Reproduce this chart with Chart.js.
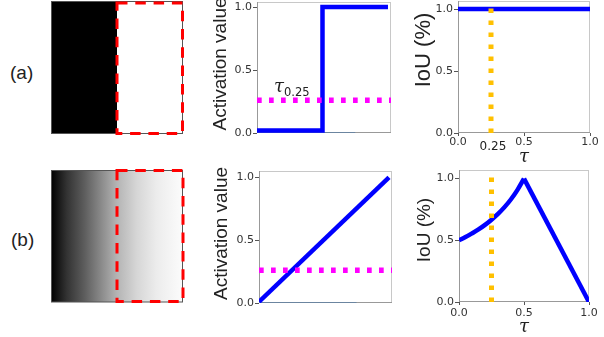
<!DOCTYPE html>
<html>
<head>
<meta charset="utf-8">
<script src="https://cdn.jsdelivr.net/npm/chart.js@4.4.1/dist/chart.umd.min.js"></script>
<style>
    html, body { margin: 0; padding: 0; background: #fff; }
    body { width: 604px; height: 337px; position: relative; overflow: hidden; font-family: 'Liberation Sans', Arial, sans-serif; }
    canvas, svg, .tag { position: absolute; display: block; }
    .tag { font-size: 19px; color: #222; line-height: 1; }
</style>
</head>
<body>

<div class="tag" style="left:10px; top:63px;">(a)</div>
<div class="tag" style="left:11px; top:230px;">(b)</div>

<!-- input maps: hard edge (a) and ramp (b), red box = ground truth region -->
<svg width="200" height="337" style="left:0; top:0;">
    <defs>
        <linearGradient id="ramp" x1="0" x2="1" y1="0" y2="0">
            <stop offset="0" stop-color="#000"/>
            <stop offset="0.12" stop-color="#333"/>
            <stop offset="0.25" stop-color="#5c5c5c"/>
            <stop offset="0.4" stop-color="#919191"/>
            <stop offset="0.5" stop-color="#b4b4b4"/>
            <stop offset="0.65" stop-color="#d6d6d6"/>
            <stop offset="0.8" stop-color="#ececec"/>
            <stop offset="1" stop-color="#fcfcfc"/>
        </linearGradient>
    </defs>
    <rect x="51" y="1" width="66" height="133" fill="#000"/>
    <rect x="51.5" y="1.5" width="131" height="132" fill="none" stroke="#555" stroke-width="1"/>
    <rect x="117" y="3" width="65.5" height="130.5" fill="none" stroke="#f00" stroke-width="3" stroke-dasharray="10.5 7.8"/>

    <rect x="51" y="170" width="132" height="132" fill="url(#ramp)"/>
    <rect x="51.5" y="170.5" width="131" height="131.5" fill="none" stroke="#555" stroke-width="1"/>
    <rect x="117" y="170.5" width="66" height="131" fill="none" stroke="#f00" stroke-width="3" stroke-dasharray="10.5 7.8"/>
</svg>

<canvas id="actA" width="196" height="138" style="left:200px; top:0;"></canvas>
<canvas id="actB" width="197" height="143" style="left:200px; top:165px;"></canvas>
<canvas id="iouA" width="204" height="170" style="left:400px; top:0;"></canvas>
<canvas id="iouB" width="204" height="172" style="left:400px; top:165px;"></canvas>

<script>
// activation along the image width
const stepX = [0, 0.5, 0.5, 1.0];
const stepY = [0.02, 0.02, 1.0, 1.0];
const rampX = [0, 1.0];
const rampY = [0.01, 1.0];
// thin line along the bottom of the activation plots
const baseX = [0, 0.75];
const baseY = [0, 0];
// threshold tau_0.25 drawn across the activation plots
const thrX = [0, 1.03];
const thrY = [0.26, 0.26];

// IoU vs threshold tau
const iouAX = [0, 1.0];
const iouAY = [1.0, 1.0];
// (b): curved rise up to the peak, then straight fall
const iouBRiseX = [0, 0.05, 0.1, 0.15, 0.2, 0.25, 0.3, 0.35, 0.4, 0.45, 0.5];
const iouBRiseY = [0.5, 0.526, 0.556, 0.588, 0.625, 0.667, 0.714, 0.769, 0.833, 0.909, 1.0];
const iouBFallX = [0.5, 1.0];
const iouBFallY = [1.0, 0.0];
// marker at tau = 0.25
const tauX = [0.25, 0.25];
const tauY = [0, 1.08];

const yTicks = [0, 0.5, 1.0];
const xTicks = [0, 0.5, 1.0];

const tickFont = { family: 'DejaVu Sans', size: 11 };

const line = (xs, ys, color, width, dash, smooth) => ({
    data: xs.map((x, i) => ({ x: x, y: ys[i] })),
    borderColor: color,
    borderWidth: width,
    borderDash: dash || [],
    borderCapStyle: 'butt',
    borderJoinStyle: smooth ? 'round' : 'miter',
    pointRadius: 0,
    tension: smooth ? 0.4 : 0,
    cubicInterpolationMode: smooth ? 'monotone' : 'default',
    fill: false
});

// spines + hand placed text (axis titles, tau label)
const framePlugin = {
    id: 'frame',
    beforeDatasetsDraw(chart) {
        const { ctx, chartArea: a } = chart;
        ctx.save();
        ctx.lineWidth = 1;
        ctx.strokeStyle = '#c8c8c8';
        ctx.beginPath();
        ctx.moveTo(a.left, a.top + 0.5);
        ctx.lineTo(a.right, a.top + 0.5);
        ctx.moveTo(a.right - 0.5, a.top);
        ctx.lineTo(a.right - 0.5, a.bottom);
        ctx.stroke();
        ctx.strokeStyle = '#999';
        ctx.beginPath();
        ctx.moveTo(a.left + 0.5, a.top);
        ctx.lineTo(a.left + 0.5, a.bottom);
        ctx.moveTo(a.left, a.bottom - 0.5);
        ctx.lineTo(a.right, a.bottom - 0.5);
        ctx.stroke();
        ctx.restore();
    },
    afterDraw(chart, args, opts) {
        const { ctx, chartArea: a, scales } = chart;
        ctx.save();
        ctx.fillStyle = '#222';
        if (opts.yTitle) {
            ctx.save();
            ctx.translate(opts.yTitleX, (a.top + a.bottom) / 2 + opts.yTitleDy);
            ctx.rotate(-Math.PI / 2);
            ctx.font = opts.yTitleFont;
            ctx.textAlign = 'center';
            ctx.textBaseline = 'middle';
            ctx.fillText(opts.yTitle, 0, 0);
            ctx.restore();
        }
        (opts.notes || []).forEach(n => {
            ctx.font = n.font;
            ctx.textAlign = n.align || 'center';
            ctx.textBaseline = n.baseline || 'alphabetic';
            const x = scales.x.getPixelForValue(n.x);
            const y = n.y !== undefined ? scales.y.getPixelForValue(n.y) : a.bottom + n.below;
            ctx.fillText(n.text, x, y);
        });
        ctx.restore();
    }
};

function plot(id, cfg) {
    const ctx = document.getElementById(id).getContext('2d');
    return new Chart(ctx, {
        type: 'line',
        data: { datasets: cfg.datasets },
        options: {
            responsive: false,
            animation: false,
            events: [],
            layout: { padding: cfg.pad },
            plugins: {
                legend: { display: false },
                tooltip: { enabled: false },
                frame: cfg.frame
            },
            scales: {
                x: {
                    type: 'linear',
                    display: cfg.showX,
                    min: 0,
                    max: cfg.xMax,
                    border: { display: false },
                    grid: { drawOnChartArea: false, tickLength: 3, color: '#555' },
                    ticks: {
                        padding: cfg.xPad,
                        color: '#333',
                        font: tickFont,
                        maxRotation: 0,
                        autoSkip: false,
                        callback: v => v.toFixed(1)
                    },
                    afterBuildTicks: s => { s.ticks = xTicks.map(v => ({ value: v })); },
                    afterFit: s => {
                        s.height = cfg.xHeight;
                        s.paddingLeft = 0;
                        s.paddingRight = 0;
                    }
                },
                y: {
                    type: 'linear',
                    min: 0,
                    max: cfg.yMax,
                    border: { display: false },
                    grid: { drawOnChartArea: false, tickLength: 4, color: '#555' },
                    ticks: {
                        padding: 1,
                        color: '#333',
                        font: tickFont,
                        callback: v => v.toFixed(1)
                    },
                    afterBuildTicks: s => { s.ticks = yTicks.map(v => ({ value: v })); },
                    afterFit: s => {
                        s.width = cfg.yWidth;
                        s.paddingTop = 0;
                        s.paddingBottom = 0;
                    }
                }
            }
        },
        plugins: [framePlugin]
    });
}

const actTitle = '19px "Liberation Sans", Arial, sans-serif';
const tauFont = 'italic 18px "DejaVu Serif", serif';

plot('actA', {
    pad: { top: 2, right: 5, bottom: 5, left: 0 },
    yWidth: 57, xHeight: 0, showX: false, xPad: 0,
    xMax: 1.023, yMax: 1.04,
    datasets: [
        line(thrX, thrY, '#ff00ff', 5.5, [4.7, 7.3]),
        line(stepX, stepY, '#0000ff', 4.5),
        line(baseX, baseY, '#3f73a8', 1.2)
    ],
    frame: {
        yTitle: 'Activation value', yTitleFont: actTitle, yTitleX: 21, yTitleDy: -3.5,
        notes: [
            { text: 'τ', font: tauFont, x: 0.13, y: 0.325, align: 'left' },
            { text: '0.25', font: '11.5px "DejaVu Sans"', x: 0.206, y: 0.294, align: 'left' }
        ]
    }
});

plot('actB', {
    pad: { top: 6, right: 5, bottom: 5, left: 0 },
    yWidth: 59, xHeight: 0, showX: false, xPad: 0,
    xMax: 1.023, yMax: 1.05,
    datasets: [
        line(thrX, thrY, '#ff00ff', 5.5, [4.7, 7.3]),
        line(rampX, rampY, '#0000ff', 4.5),
        line(baseX, baseY, '#3f73a8', 1.2)
    ],
    frame: {
        yTitle: 'Activation value', yTitleFont: actTitle, yTitleX: 22, yTitleDy: -3.5
    }
});

plot('iouA', {
    pad: { top: 1, right: 14, bottom: 0, left: 0 },
    yWidth: 58, xHeight: 37, showX: true, xPad: 0,
    xMax: 1.0, yMax: 1.065,
    datasets: [
        line(tauX, tauY, '#ffc000', 5, [4.5, 7.5]),
        line(iouAX, iouAY, '#0000ff', 4.5)
    ],
    frame: {
        yTitle: 'IoU (%)', yTitleFont: '22px "Liberation Sans", Arial, sans-serif', yTitleX: 24, yTitleDy: -17,
        notes: [
            { text: '0.25', font: '12px "DejaVu Sans"', x: 0.265, below: 14, baseline: 'middle' },
            { text: 'τ', font: tauFont, x: 0.5, below: 24, baseline: 'middle' }
        ]
    }
});

plot('iouB', {
    pad: { top: 5, right: 15, bottom: 0, left: 0 },
    yWidth: 59, xHeight: 35, showX: true, xPad: 2,
    xMax: 1.0, yMax: 1.07,
    datasets: [
        line(tauX, tauY, '#ffc000', 5, [4.5, 7.5]),
        line(iouBRiseX, iouBRiseY, '#0000ff', 4.5, null, true),
        line(iouBFallX, iouBFallY, '#0000ff', 4.5)
    ],
    frame: {
        yTitle: 'IoU (%)', yTitleFont: '19px "Liberation Sans", Arial, sans-serif', yTitleX: 25, yTitleDy: -6,
        notes: [
            { text: 'τ', font: tauFont, x: 0.5, below: 25, baseline: 'middle' }
        ]
    }
});
</script>
</body>
</html>
